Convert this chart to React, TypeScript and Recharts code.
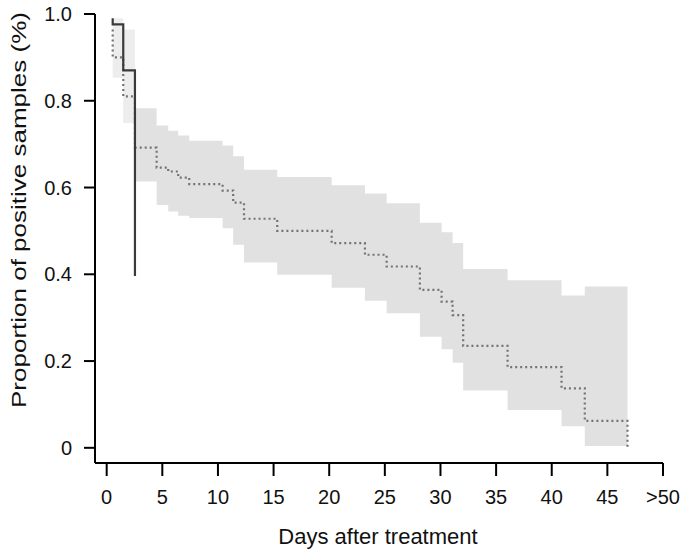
import { Area, ComposedChart, Line, XAxis, YAxis } from "recharts";

// solid curve (first group)
const solidDays = [0.54, 0.54, 1.49, 2.54];
const solidValues = [0.99, 0.976, 0.87, 0.396];

// dotted curve (second group)
const dottedDays = [
  0.54, 0.54, 1.49, 2.54, 4.49, 5.53, 6.43, 7.42, 10.42, 11.37, 12.34, 15.33, 20.22, 23.21,
  25.16, 28.15, 30.1, 31.09, 32.04, 36.03, 40.88, 42.97, 46.81,
];
const dottedValues = [
  0.964, 0.9, 0.81, 0.692, 0.646, 0.637, 0.623, 0.608, 0.593, 0.565, 0.528, 0.5, 0.472, 0.445,
  0.418, 0.364, 0.337, 0.306, 0.235, 0.186, 0.137, 0.062, -0.003,
];

// confidence band of the dotted curve
const bandDays = [
  2.54, 4.49, 5.53, 6.43, 7.42, 10.42, 11.37, 12.34, 15.33, 20.22, 23.21, 25.16, 28.15, 30.1,
  31.09, 32.04, 36.03, 40.88, 42.97, 46.81,
];
const bandUpper = [
  0.783, 0.743, 0.731, 0.72, 0.708, 0.697, 0.672, 0.641, 0.624, 0.605, 0.586, 0.564, 0.519,
  0.497, 0.472, 0.412, 0.386, 0.351, 0.372, 0.372,
];
const bandLower = [
  0.614, 0.56, 0.545, 0.535, 0.53, 0.506, 0.468, 0.427, 0.399, 0.369, 0.339, 0.31, 0.256, 0.227,
  0.196, 0.132, 0.087, 0.05, 0.004, 0.004,
];

// lighter band over the first days
const earlyDays = [0.54, 1.49, 2.54];
const earlyUpper = [0.99, 0.964, 0.964];
const earlyLower = [0.853, 0.749, 0.749];

const xTicks = [0, 5, 10, 15, 20, 25, 30, 35, 40, 45, 50];
const yTicks = [0, 0.2, 0.4, 0.6, 0.8, 1.0];

const solidData = solidDays.map((day, i) => ({ day, value: solidValues[i] }));
const dottedData = dottedDays.map((day, i) => ({ day, value: dottedValues[i] }));
const bandData = bandDays.map((day, i) => ({ day, range: [bandLower[i], bandUpper[i]] }));
const earlyData = earlyDays.map((day, i) => ({ day, range: [earlyLower[i], earlyUpper[i]] }));

const font = "'Liberation Sans', Arial, Helvetica, sans-serif";
const tickStyle = { fontSize: 20, fill: "#111", fontFamily: font };

export default function App() {
  return (
    <div
      style={{
        position: "absolute",
        left: 0,
        top: 0,
        width: 691,
        height: 555,
        background: "#fff",
        fontFamily: font,
      }}
    >
      <ComposedChart width={691} height={555} margin={{ top: 14, right: 28, bottom: 0, left: 0 }}>
        <XAxis
          type="number"
          dataKey="day"
          domain={[-1.05, 50]}
          ticks={xTicks}
          tickFormatter={(v) => (v === 50 ? ">50" : String(v))}
          allowDataOverflow
          height={92}
          tickSize={13}
          tickMargin={14}
          tick={tickStyle}
          stroke="#000"
          strokeWidth={2}
        />
        <YAxis
          type="number"
          domain={[-0.035, 1]}
          ticks={yTicks}
          tickFormatter={(v) => (v === 0 ? "0" : v.toFixed(1))}
          allowDataOverflow
          width={95}
          tickSize={11}
          tickMargin={12}
          tick={tickStyle}
          stroke="#000"
          strokeWidth={2}
        />
        <Area
          data={earlyData}
          dataKey="range"
          type="stepAfter"
          fill="#ededed"
          fillOpacity={1}
          stroke="none"
          isAnimationActive={false}
        />
        <Area
          data={bandData}
          dataKey="range"
          type="stepAfter"
          fill="#e1e1e1"
          fillOpacity={1}
          stroke="none"
          isAnimationActive={false}
        />
        <Line
          data={dottedData}
          dataKey="value"
          type="stepAfter"
          stroke="#737373"
          strokeWidth={2.2}
          strokeDasharray="2 3"
          dot={false}
          isAnimationActive={false}
        />
        <Line
          data={solidData}
          dataKey="value"
          type="stepAfter"
          stroke="#3a3a3a"
          strokeWidth={2.2}
          dot={false}
          isAnimationActive={false}
        />
      </ComposedChart>
      <div
        style={{
          position: "absolute",
          left: 228,
          top: 525,
          width: 300,
          textAlign: "center",
          fontSize: 22,
          lineHeight: "24px",
          color: "#111",
        }}
      >
        Days after treatment
      </div>
      <div
        style={{
          position: "absolute",
          left: 19 - 250,
          top: 210 - 15,
          width: 500,
          height: 30,
          lineHeight: "30px",
          textAlign: "center",
          fontSize: 20,
          color: "#111",
          transform: "rotate(-90deg) scaleX(1.3)",
        }}
      >
        Proportion of positive samples (%)
      </div>
    </div>
  );
}
